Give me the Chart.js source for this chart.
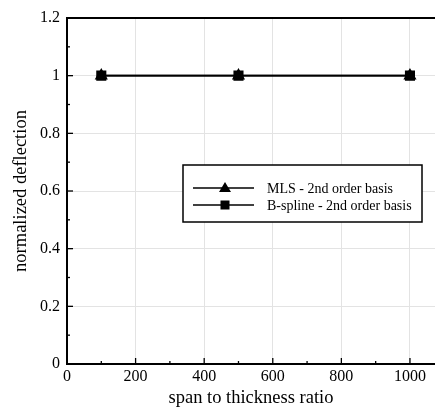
<!DOCTYPE html>
<html>
<head>
<meta charset="utf-8">
<script src="https://cdn.jsdelivr.net/npm/chart.js@4"></script>
<style>
  html, body { margin: 0; padding: 0; background: #fff; }
  #wrap { width: 435px; height: 409px; }
</style>
</head>
<body>
<div id="wrap"><canvas id="grafico" width="435" height="409"></canvas></div>
<script>
const spanRatio = [100, 500, 1000];
const mlsValues = [1.0, 1.0, 1.0];
const bsplineValues = [1.0, 1.0, 1.0];
const xTicks = [0, 200, 400, 600, 800, 1000];
const yTicks = [0, 0.2, 0.4, 0.6, 0.8, 1, 1.2];

const serif = 'Liberation Serif';

// inward ticks, top border and the boxed legend
const frame = {
  id: 'frame',
  afterDraw(chart) {
    const c = chart.ctx;
    const a = chart.chartArea;
    const x = chart.scales.x;
    const y = chart.scales.y;
    c.save();
    c.strokeStyle = '#000';
    c.lineWidth = 1.3;
    for (let v = 0; v <= 1070; v += 100) {
      const px = x.getPixelForValue(v);
      const len = v % 200 === 0 ? 6 : 3;
      c.beginPath(); c.moveTo(px, a.bottom); c.lineTo(px, a.bottom - len); c.stroke();
    }
    for (let i = 0; i <= 12; i++) {
      const py = y.getPixelForValue(i / 10);
      const len = i % 2 === 0 ? 6 : 3;
      c.beginPath(); c.moveTo(a.left, py); c.lineTo(a.left + len, py); c.stroke();
    }
    c.lineWidth = 2;
    c.beginPath(); c.moveTo(a.left, a.top); c.lineTo(a.right, a.top); c.stroke();

    // legend
    const bx = 183, by = 165, bw = 239, bh = 57;
    c.fillStyle = '#fff';
    c.fillRect(bx, by, bw, bh);
    c.lineWidth = 1.5;
    c.strokeRect(bx, by, bw, bh);
    c.font = '14px "' + serif + '"';
    c.textBaseline = 'middle';
    chart.data.datasets.forEach((ds, i) => {
      const ly = by + 23 + i * 17;
      c.lineWidth = 1.5;
      c.beginPath(); c.moveTo(bx + 10, ly); c.lineTo(bx + 71, ly); c.stroke();
      c.fillStyle = '#000';
      if (ds.pointStyle === 'triangle') {
        c.beginPath();
        c.moveTo(bx + 42, ly - 6); c.lineTo(bx + 48, ly + 4); c.lineTo(bx + 36, ly + 4);
        c.closePath(); c.fill();
      } else {
        c.fillRect(bx + 37.5, ly - 4.5, 9, 9);
      }
      c.fillText(ds.label, bx + 84, ly + 1);
    });
    c.restore();
  }
};

new Chart(document.getElementById('grafico').getContext('2d'), {
  type: 'line',
  data: {
    datasets: [{
      label: 'MLS - 2nd order basis',
      data: spanRatio.map((v, i) => ({ x: v, y: mlsValues[i] })),
      borderColor: '#000',
      backgroundColor: '#000',
      borderWidth: 1.6,
      pointStyle: 'triangle',
      pointRadius: 6,
      pointHoverRadius: 6
    }, {
      label: 'B-spline - 2nd order basis',
      data: spanRatio.map((v, i) => ({ x: v, y: bsplineValues[i] })),
      borderColor: '#000',
      backgroundColor: '#000',
      borderWidth: 1.6,
      pointStyle: 'rect',
      pointRadius: 6,
      pointHoverRadius: 6
    }]
  },
  options: {
    responsive: false,
    animation: false,
    layout: { autoPadding: false, padding: { top: 18, right: 0, left: 0, bottom: 0 } },
    plugins: {
      legend: { display: false },
      tooltip: { enabled: false }
    },
    scales: {
      x: {
        type: 'linear',
        min: 0,
        max: 1073,
        afterBuildTicks: s => { s.ticks = xTicks.map(v => ({ value: v })); },
        afterFit: s => { s.height = 45; s.paddingLeft = 0; s.paddingRight = 0; },
        ticks: {
          color: '#000',
          padding: 3,
          maxRotation: 0,
          callback: v => String(v),
          font: { family: serif, size: 16 }
        },
        grid: { color: '#e3e3e3', lineWidth: 1, drawTicks: false },
        border: { color: '#000', width: 2 },
        title: {
          display: true,
          text: 'span to thickness ratio',
          color: '#000',
          padding: { top: 0, bottom: 0 },
          font: { family: serif, size: 18.5 }
        }
      },
      y: {
        min: 0,
        max: 1.2,
        afterBuildTicks: s => { s.ticks = yTicks.map(v => ({ value: v })); },
        afterFit: s => { s.width = 67; },
        ticks: {
          color: '#000',
          padding: 7,
          callback: v => String(v),
          font: { family: serif, size: 16 }
        },
        grid: { color: '#e3e3e3', lineWidth: 1, drawTicks: false },
        border: { color: '#000', width: 2 },
        title: {
          display: true,
          text: 'normalized deflection',
          color: '#000',
          padding: { top: 10, bottom: 2 },
          font: { family: serif, size: 18.5 }
        }
      }
    }
  },
  plugins: [frame]
});
</script>
</body>
</html>
